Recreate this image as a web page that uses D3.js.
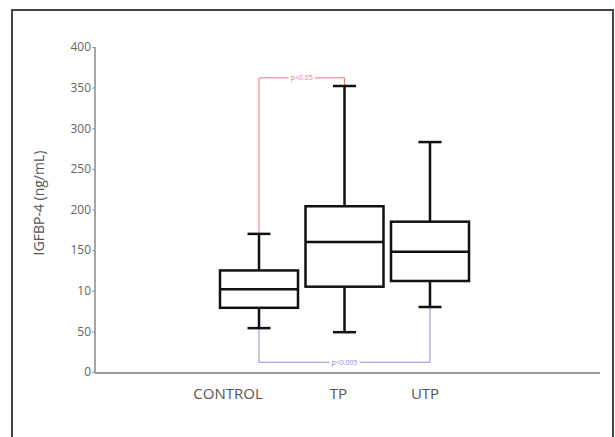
<!DOCTYPE html>
<html><head><meta charset="utf-8">
<script src="https://cdn.jsdelivr.net/npm/d3@7"></script>
<style>body{margin:0;background:#fff}svg{display:block}</style>
</head><body>
<script>
const categories = ["CONTROL", "TP", "UTP"];
const whiskerLow = [54, 49, 80];
const q1 = [79, 105, 112];
const median = [102, 160, 148];
const q3 = [125, 204, 185];
const whiskerHigh = [170, 352, 283];
const yTicks = [0, 50, 100, 150, 200, 250, 300, 350, 400];
const yTickLabels = ["0", "50", "10", "150", "200", "250", "300", "350", "400"];
const sigRed = {from: "CONTROL", to: "TP", level: 362, text: "p<0.05"};
const sigBlue = {from: "CONTROL", to: "UTP", level: 12, text: "p<0.005"};

const W = 615, H = 437;
const svg = d3.select("body").append("svg").attr("width", W).attr("height", H);
svg.append("path").attr("d", `M12,437 L12,10 L613,10 L613,437`)
  .attr("fill", "none").attr("stroke", "#444").attr("stroke-width", 2);

const y = d3.scaleLinear().domain([0, 400]).range([372, 47]);
const x = d3.scalePoint().domain(categories).range([259, 430]);
const font = "'Open Sans', 'DejaVu Sans', sans-serif";

// y axis
const yAxis = svg.append("g").attr("transform", "translate(95,0)")
  .call(d3.axisLeft(y).tickValues(yTicks).tickSize(3).tickFormat((d, i) => yTickLabels[i]));
yAxis.select(".domain").attr("stroke", "#888").attr("stroke-width", 1.5).attr("d", `M0,${y(400)}V${y(0)}`);
yAxis.selectAll(".tick line").attr("stroke", "#999");
yAxis.selectAll(".tick text").attr("font-family", font).attr("font-size", 12).attr("fill", "#666").attr("x", -4);

// x axis
svg.append("line").attr("x1", 95).attr("x2", 600).attr("y1", y(0) + 1).attr("y2", y(0) + 1)
  .attr("stroke", "#999").attr("stroke-width", 2);
const labelDx = {"CONTROL": -31, "TP": -6, "UTP": -5};
svg.append("g").selectAll("text").data(categories).join("text")
  .attr("x", d => x(d) + labelDx[d]).attr("y", 399)
  .attr("text-anchor", "middle").attr("font-family", font).attr("font-size", 15)
  .attr("fill", "#555").text(d => d);

// y label
svg.append("text").attr("transform", "translate(44,203) rotate(-90)")
  .attr("text-anchor", "middle").attr("font-family", font).attr("font-size", 14)
  .attr("fill", "#555").text("IGFBP-4 (ng/mL)");

// significance brackets
function bracket(s, color) {
  const x1 = x(s.from), x2 = x(s.to);
  const i1 = categories.indexOf(s.from), i2 = categories.indexOf(s.to);
  const yl = y(s.level);
  const up = s.level > 200;
  const y1 = up ? y(whiskerHigh[i1]) : y(whiskerLow[i1]);
  const y2 = up ? y(whiskerHigh[i2]) : y(whiskerLow[i2]);
  const grp = svg.append("g");
  grp.append("path").attr("d", `M${x1},${y1}V${yl}H${x2}V${y2}`)
    .attr("fill", "none").attr("stroke", color).attr("stroke-width", 1);
  const bg = grp.append("rect").attr("fill", "#fff");
  const t = grp.append("text").attr("x", (x1 + x2) / 2).attr("y", yl + 2.5).attr("text-anchor", "middle")
    .attr("font-family", font).attr("font-size", 7).attr("fill", color).text(s.text);
  const bb = t.node().getBBox();
  bg.attr("x", bb.x - 2).attr("y", yl - 2).attr("width", bb.width + 4).attr("height", 4);
}
bracket(sigRed, "#e77");
bracket(sigBlue, "#8a8fd0");

// boxes
const boxW = 78, capW = 23;
const g = svg.append("g").attr("stroke", "#111").attr("stroke-width", 2.5).attr("fill", "none");
categories.forEach((c, i) => {
  const cx = x(c);
  g.append("line").attr("x1", cx).attr("x2", cx).attr("y1", y(whiskerHigh[i])).attr("y2", y(q3[i]));
  g.append("line").attr("x1", cx).attr("x2", cx).attr("y1", y(q1[i])).attr("y2", y(whiskerLow[i]));
  g.append("line").attr("x1", cx - capW / 2).attr("x2", cx + capW / 2).attr("y1", y(whiskerHigh[i])).attr("y2", y(whiskerHigh[i]));
  g.append("line").attr("x1", cx - capW / 2).attr("x2", cx + capW / 2).attr("y1", y(whiskerLow[i])).attr("y2", y(whiskerLow[i]));
  g.append("rect").attr("x", cx - boxW / 2).attr("width", boxW).attr("y", y(q3[i])).attr("height", y(q1[i]) - y(q3[i])).attr("fill", "#fff");
  g.append("line").attr("x1", cx - boxW / 2).attr("x2", cx + boxW / 2).attr("y1", y(median[i])).attr("y2", y(median[i]));
});
</script>
</body></html>
